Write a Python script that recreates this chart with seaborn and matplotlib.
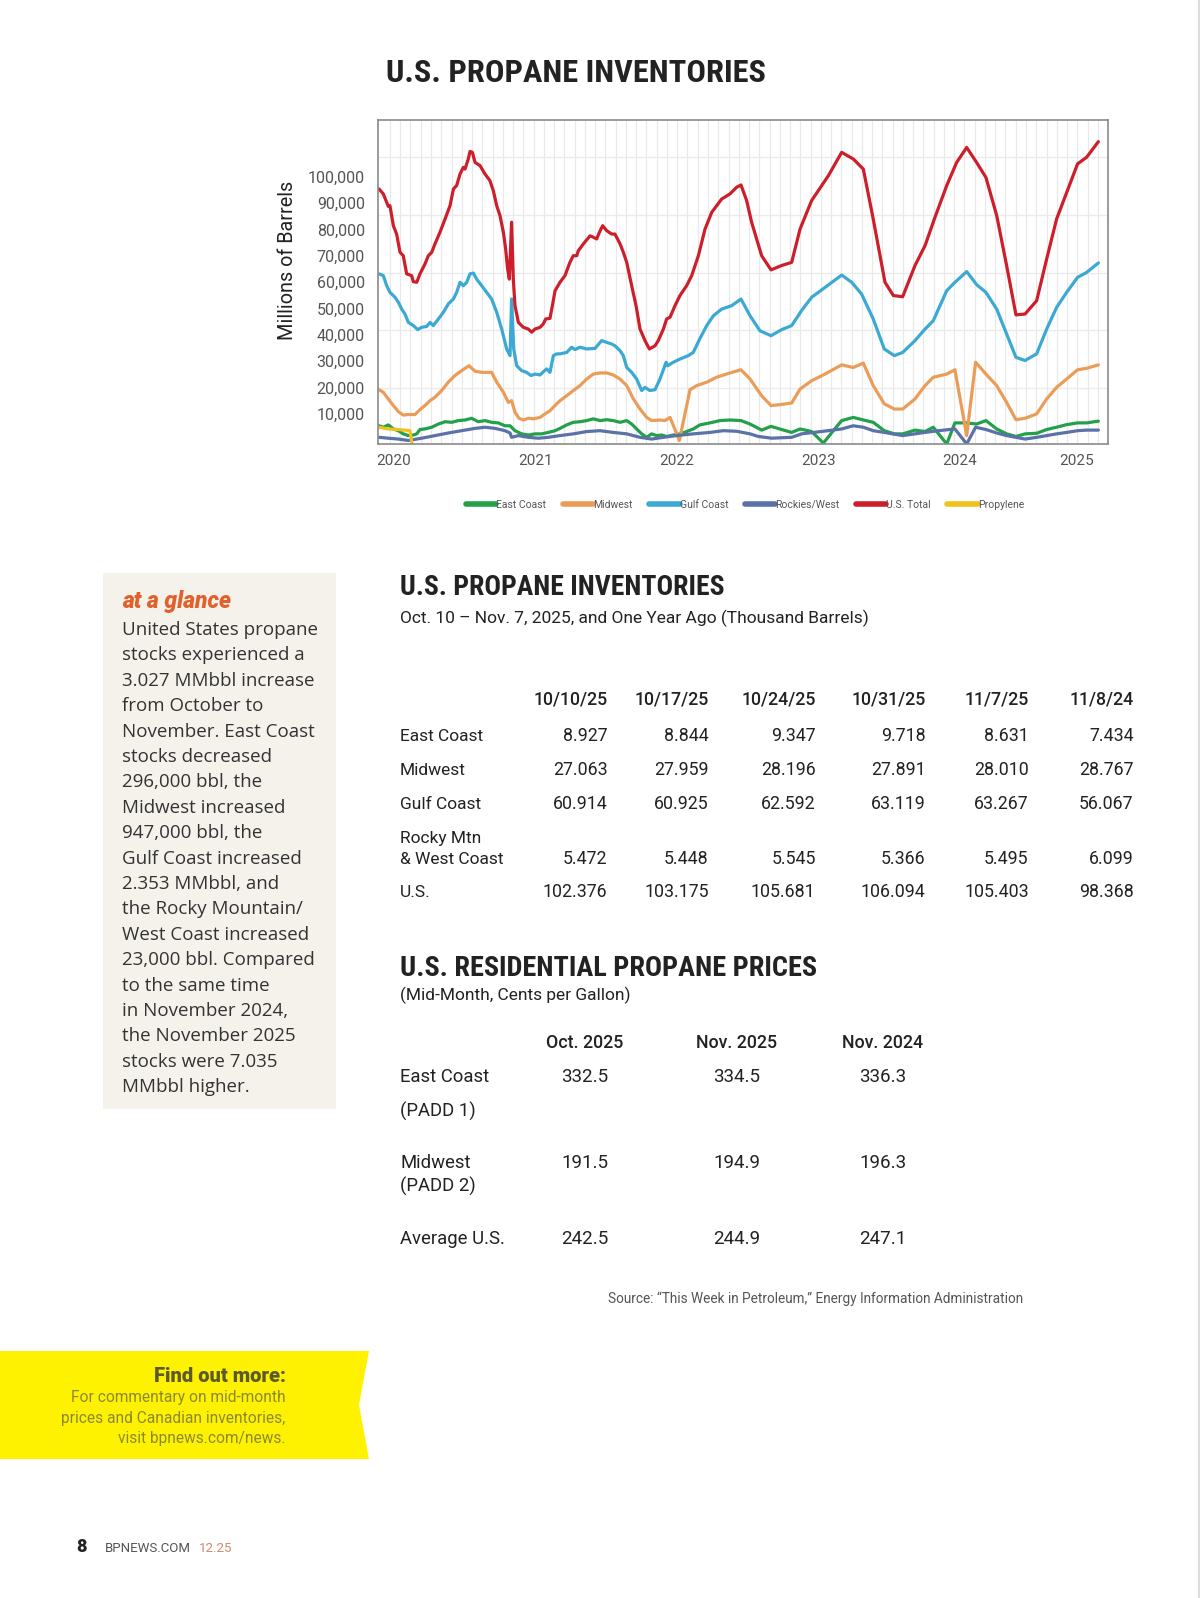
import os
import numpy as np
import pandas as pd
import matplotlib
matplotlib.use("Agg")
import matplotlib.pyplot as plt
import matplotlib.font_manager as fm
import seaborn as sns
from matplotlib.patches import Rectangle, Polygon
from matplotlib.lines import Line2D
from matplotlib.ticker import FuncFormatter

# ---------------- chart data (thousand barrels) ----------------
SERIES = ["East Coast", "Midwest", "Gulf Coast", "Rockies/West", "U.S. Total", "Propylene"]
COLORS = ["#23a04a", "#eb9d58", "#3ba9d3", "#5a72a8", "#cc1f2b", "#f2c21c"]

us_x = [2019.898, 2019.928, 2019.963, 2019.975, 2019.999, 2020.022, 2020.046, 2020.069, 2020.093, 2020.128,
        2020.140, 2020.164, 2020.187, 2020.222, 2020.246, 2020.270, 2020.293, 2020.328, 2020.364, 2020.399,
        2020.423, 2020.446, 2020.470, 2020.493, 2020.505, 2020.528, 2020.540, 2020.557, 2020.576, 2020.611,
        2020.646, 2020.681, 2020.705, 2020.729, 2020.752, 2020.776, 2020.792, 2020.806, 2020.818, 2020.834,
        2020.846, 2020.858, 2020.882, 2020.917, 2020.952, 2020.976, 2020.999, 2021.035, 2021.058, 2021.075,
        2021.105, 2021.122, 2021.141,
        2021.176, 2021.211, 2021.246, 2021.270, 2021.294, 2021.305, 2021.341, 2021.388, 2021.411, 2021.435,
        2021.454, 2021.477, 2021.505, 2021.541, 2021.564, 2021.600, 2021.623, 2021.647, 2021.682, 2021.713,
        2021.741, 2021.776, 2021.807, 2021.847, 2021.870, 2021.906, 2021.929, 2021.953, 2021.988, 2022.023,
        2022.070, 2022.106, 2022.153, 2022.200, 2022.247, 2022.282, 2022.317, 2022.376, 2022.423, 2022.454,
        2022.494, 2022.529, 2022.600, 2022.666, 2022.741, 2022.812, 2022.871, 2022.953, 2023.071, 2023.165,
        2023.247, 2023.318, 2023.388, 2023.471, 2023.530, 2023.596, 2023.683,
        2023.754, 2023.824, 2023.907, 2023.977, 2024.048, 2024.118, 2024.184, 2024.260, 2024.330, 2024.396,
        2024.460, 2024.542, 2024.613, 2024.683, 2024.754, 2024.831, 2024.895, 2024.978]
us_v = [89000, 87300, 83000, 83200, 76300, 73400, 67100, 65900, 59600, 59000,
        56900, 56700, 59600, 63000, 65900, 67100, 70000, 74000, 78600, 83200,
        89000, 90200, 94200, 96500, 95900, 99400, 102000, 101700, 98200, 97100,
        94200, 91900, 88400, 83200, 79800, 74000, 68200, 61300, 57800, 77500,
        57800, 48600, 42800, 41100, 40500, 39400, 40500, 41100, 42300, 44000,
        44200, 48600, 53800,
        56700, 59000, 63600, 65900, 65900, 67600, 70000, 72800, 72300, 71700,
        74000, 76300, 74600, 73400, 73400, 70000, 67100, 63600, 55500, 48600,
        40500, 36500, 33600, 34700, 36500, 40500, 44000, 44600, 48600, 52100,
        55500, 59000, 65900, 75100, 80900, 83200, 85500, 87300, 89600, 90400,
        85000, 77500, 65900, 61000, 62500, 63600, 75100, 85000, 93600, 101700,
        99400, 95900, 78600, 56700, 52100, 51700, 62500,
        69400, 79200, 90200, 98200, 103400, 98200, 93000, 79800, 62500, 45400,
        45700, 50300, 64800, 78600, 87800, 97700, 100000, 105400]

gulf_x = [2019.898, 2019.928, 2019.952, 2019.975, 2020.011, 2020.034, 2020.058, 2020.081, 2020.105, 2020.140,
          2020.171, 2020.199, 2020.234, 2020.258, 2020.281, 2020.317, 2020.352, 2020.387, 2020.423, 2020.446,
          2020.470, 2020.493, 2020.517, 2020.540, 2020.564, 2020.587, 2020.623, 2020.658, 2020.693, 2020.729,
          2020.764, 2020.799, 2020.823, 2020.834, 2020.849, 2020.870, 2020.905, 2020.940, 2020.971, 2020.999,
          2021.035, 2021.058, 2021.082, 2021.105, 2021.129, 2021.152,
          2021.176, 2021.223, 2021.258, 2021.282, 2021.317, 2021.364, 2021.423, 2021.470, 2021.505, 2021.541,
          2021.564, 2021.600, 2021.623, 2021.647, 2021.682, 2021.717, 2021.753, 2021.776, 2021.811, 2021.847,
          2021.882, 2021.925, 2021.936, 2021.976, 2022.023, 2022.082, 2022.117, 2022.163, 2022.212, 2022.259,
          2022.317, 2022.388, 2022.454,
          2022.518, 2022.588, 2022.666, 2022.741, 2022.812, 2022.882, 2022.953, 2023.047, 2023.165, 2023.236,
          2023.306, 2023.388, 2023.466, 2023.537, 2023.596, 2023.683,
          2023.754, 2023.812, 2023.907, 2023.965, 2024.048, 2024.118, 2024.184, 2024.260, 2024.330, 2024.396,
          2024.460, 2024.542, 2024.613, 2024.683, 2024.754, 2024.831, 2024.895, 2024.978]
gulf_v = [59600, 59000, 55500, 53200, 51500, 49800, 47400, 45700, 42800, 41700,
          40300, 41100, 41400, 42800, 41700, 44000, 46300, 49200, 50900, 53200,
          56700, 55500, 56700, 59600, 59900, 57800, 55500, 53200, 50900, 46300,
          40500, 33600, 31300, 50900, 33600, 27800, 26100, 25500, 24400, 24900,
          24600, 25700, 26700, 25500, 31300, 31900,
          31900, 32400, 34200, 33400, 34200, 33600, 33800, 36500, 35900, 35300,
          34700, 33000, 31300, 27200, 25500, 23200, 19200, 20300, 19200, 19500,
          23200, 29000, 27800, 29000, 30100, 31300, 32400, 37100, 41700, 45100,
          47400, 48600, 50900,
          45100, 39900, 38200, 40300, 41700, 46900, 51500, 54900, 59200, 56700,
          52600, 44000, 33600, 31300, 32400, 36500,
          40500, 43400, 53800, 56700, 60400, 55900, 53200, 47400, 38800, 30700,
          29600, 31900, 40500, 48000, 53200, 58400, 60100, 63400]

mid_x = [2019.898, 2019.928, 2019.963, 2019.999, 2020.034, 2020.069, 2020.105, 2020.152, 2020.187, 2020.222,
         2020.258, 2020.293, 2020.340, 2020.387, 2020.434, 2020.481, 2020.533, 2020.576, 2020.623, 2020.693,
         2020.729, 2020.776, 2020.811, 2020.834, 2020.858, 2020.886, 2020.917, 2020.952, 2020.987, 2021.035,
         2021.070, 2021.105, 2021.152,
         2021.176, 2021.223, 2021.270, 2021.317, 2021.364, 2021.411, 2021.458, 2021.505, 2021.552, 2021.600,
         2021.647, 2021.694, 2021.741, 2021.788, 2021.823, 2021.882, 2021.917, 2021.953, 2022.019, 2022.094,
         2022.141, 2022.212, 2022.282, 2022.376, 2022.454,
         2022.518, 2022.600, 2022.666, 2022.741, 2022.812, 2022.871, 2022.953, 2023.047, 2023.165, 2023.247,
         2023.318, 2023.388, 2023.466, 2023.537, 2023.596, 2023.683,
         2023.754, 2023.812, 2023.907, 2023.965, 2024.048, 2024.111, 2024.184, 2024.260, 2024.330, 2024.396,
         2024.460, 2024.542, 2024.613, 2024.683, 2024.754, 2024.831, 2024.895, 2024.978]
mid_v = [19500, 18600, 16300, 14000, 11900, 10700, 10900, 10900, 12600, 14000,
         15700, 16900, 19200, 22100, 24400, 26100, 27800, 25900, 25500, 25500,
         22100, 18600, 15100, 15700, 11700, 9600, 9000, 9600, 9400, 9900,
         11100, 12200, 14600,
         15700, 17400, 19200, 20900, 23200, 24900, 25300, 25300, 24600, 23200,
         20900, 16300, 12800, 9900, 8800, 9000, 8800, 9900, 1900, 19500,
         20900, 22100, 23800, 25300, 26400,
         23200, 17400, 14000, 14400, 14900, 19700, 22600, 24900, 28100, 27200,
         28700, 20900, 14600, 12800, 12800, 16300,
         20900, 23800, 24900, 26400, 3600, 29000, 24900, 20900, 15100, 9100,
         9600, 11100, 16300, 20300, 23200, 26400, 26900, 28100]

east_x = [2019.898, 2019.928, 2019.963, 2019.999, 2020.034, 2020.069, 2020.105, 2020.140, 2020.164, 2020.187,
          2020.222, 2020.270, 2020.317, 2020.364, 2020.411, 2020.458, 2020.505, 2020.552, 2020.599, 2020.646,
          2020.693, 2020.740, 2020.787, 2020.823, 2020.858, 2020.905, 2020.952, 2020.999, 2021.046, 2021.093,
          2021.141,
          2021.176, 2021.223, 2021.270, 2021.317, 2021.364, 2021.411, 2021.458, 2021.505, 2021.552, 2021.600,
          2021.647, 2021.682, 2021.717, 2021.753, 2021.788, 2021.823, 2021.858, 2021.894, 2021.929, 2021.976,
          2022.023, 2022.070, 2022.117, 2022.164, 2022.235, 2022.306, 2022.376, 2022.454,
          2022.518, 2022.600, 2022.666, 2022.741, 2022.812, 2022.871, 2022.953, 2023.036, 2023.106, 2023.165,
          2023.247, 2023.318, 2023.388, 2023.466, 2023.537, 2023.596, 2023.683,
          2023.754, 2023.812, 2023.907, 2023.965, 2024.048, 2024.118, 2024.184, 2024.260, 2024.330, 2024.396,
          2024.460, 2024.542, 2024.613, 2024.683, 2024.754, 2024.831, 2024.895, 2024.978]
east_v = [7000, 6500, 7300, 5900, 5300, 4200, 3600, 3800, 4200, 5700,
          5900, 6500, 7600, 8400, 8200, 8800, 9000, 9600, 8400, 8800,
          8200, 8000, 7000, 7000, 5300, 4200, 3800, 4200, 4200, 4700,
          5300,
          6100, 7300, 8200, 8400, 8800, 9400, 8800, 9100, 8800, 8200,
          8800, 7600, 5900, 4200, 3000, 4200, 3600, 3800, 3300, 3800,
          4200, 5000, 5900, 7300, 8000, 8800, 9000, 8800,
          7600, 5500, 6800, 5700, 4700, 5900, 5000, 1000, 5300, 8800,
          9900, 9000, 8200, 5300, 4200, 4200, 5500,
          5000, 6500, 700, 8000, 8000, 7600, 8800, 5900, 4200, 3300,
          4200, 4400, 5700, 6500, 7400, 8000, 8000, 8600]

rock_x = [2019.898, 2019.963, 2020.034, 2020.105, 2020.140, 2020.199, 2020.293, 2020.387, 2020.481, 2020.576,
          2020.646, 2020.717, 2020.787, 2020.823, 2020.834, 2020.882, 2020.952, 2021.023, 2021.093,
          2021.176, 2021.270, 2021.364, 2021.458, 2021.552, 2021.647, 2021.741, 2021.823, 2021.906, 2021.999,
          2022.117, 2022.235, 2022.329, 2022.423,
          2022.518, 2022.576, 2022.671, 2022.812, 2022.882, 2023.036, 2023.165, 2023.247, 2023.318, 2023.388,
          2023.466, 2023.596,
          2023.754, 2023.848, 2023.965, 2024.048, 2024.111, 2024.184, 2024.260, 2024.330, 2024.396, 2024.460,
          2024.542, 2024.613, 2024.683, 2024.754, 2024.831, 2024.895, 2024.978]
rock_v = [3000, 2700, 2400, 1900, 2200, 2700, 3600, 4500, 5300, 6100,
          6500, 6100, 5300, 4500, 3000, 3600, 3000, 2700, 3000,
          3600, 4200, 5000, 5300, 4700, 4200, 3000, 2400, 3000, 3600,
          4200, 4700, 5300, 5100,
          4200, 3300, 2700, 3000, 4200, 5100, 5900, 7000, 6500, 5300,
          4700, 3600,
          4700, 5300, 5900, 700, 6500, 5700, 4500, 3600, 3000, 2400,
          3000, 3600, 4200, 4700, 5300, 5500, 5500]

prop_x = [2019.898, 2019.963, 2020.034, 2020.116, 2020.133]
prop_v = [6500, 5900, 5700, 5300, 0]

X_TICKS = [2020, 2021, 2022, 2023, 2024, 2024.824]
X_LABELS = ["2020", "2021", "2022", "2023", "2024", "2025"]
Y_LABEL_TICKS = [10000, 20000, 30000, 40000, 50000, 60000, 70000, 80000, 90000, 100000]

# ---------------- table data ----------------
inv_dates = ["10/10/25", "10/17/25", "10/24/25", "10/31/25", "11/7/25", "11/8/24"]
inv_rows = ["East Coast", "Midwest", "Gulf Coast", "Rocky Mtn\n& West Coast", "U.S."]
inv_east = ["8.927", "8.844", "9.347", "9.718", "8.631", "7.434"]
inv_midwest = ["27.063", "27.959", "28.196", "27.891", "28.010", "28.767"]
inv_gulf = ["60.914", "60.925", "62.592", "63.119", "63.267", "56.067"]
inv_rocky = ["5.472", "5.448", "5.545", "5.366", "5.495", "6.099"]
inv_us = ["102.376", "103.175", "105.681", "106.094", "105.403", "98.368"]

price_cols = ["Oct. 2025", "Nov. 2025", "Nov. 2024"]
price_east = ["332.5", "334.5", "336.3"]
price_midwest = ["191.5", "194.9", "196.3"]
price_avg = ["242.5", "244.9", "247.1"]

glance_lines = ["United States propane", "stocks experienced a", "3.027 MMbbl increase",
                "from October to", "November. East Coast", "stocks decreased",
                "296,000 bbl, the", "Midwest increased", "947,000 bbl, the",
                "Gulf Coast increased", "2.353 MMbbl, and", "the Rocky Mountain/",
                "West Coast increased", "23,000 bbl. Compared", "to the same time",
                "in November 2024,", "the November 2025", "stocks were 7.035",
                "MMbbl higher."]

# ---------------- fonts ----------------
sns.set_style("white")
plt.rcParams["font.family"] = ["Roboto", "DejaVu Sans"]


def pick_condensed_bold():
    prefs = ["LiberationSansNarrow-Bold.ttf", "RobotoCondensed-Bold.ttf", "DejaVuSansCondensed-Bold.ttf",
             "OpenSans-CondensedBold.ttf", "NotoSans-CondensedBold.ttf"]
    files = {os.path.basename(f.fname): f.fname for f in fm.fontManager.ttflist}
    for p in prefs:
        if p in files:
            return fm.FontProperties(fname=files[p])
    for name, path in files.items():
        low = name.lower()
        if ("condensed" in low or "narrow" in low) and "bold" in low and "italic" not in low \
                and "semi" not in low and "extra" not in low:
            return fm.FontProperties(fname=path)
    return fm.FontProperties(family="Roboto", weight="bold")


COND_FP = pick_condensed_bold()

W, H = 1200, 1598
fig = plt.figure(figsize=(12, 15.98), dpi=100)
fig.patch.set_facecolor("white")
renderer = fig.canvas.get_renderer()


def fx(px):
    return px / W


def fy(py):
    return 1 - py / H


def fit_width(t, target_px):
    bb = t.get_window_extent(renderer)
    t.set_fontsize(t.get_fontsize() * target_px / bb.width)


frames = []
for name, xs, vs in [("East Coast", east_x, east_v), ("Midwest", mid_x, mid_v),
                     ("Gulf Coast", gulf_x, gulf_v), ("Rockies/West", rock_x, rock_v),
                     ("U.S. Total", us_x, us_v), ("Propylene", prop_x, prop_v)]:
    frames.append(pd.DataFrame({"x": xs, "v": vs, "series": name}))
df = pd.concat(frames, ignore_index=True)

ax = fig.add_axes([fx(378), fy(444), (1108 - 378) / W, (444 - 120) / H])
sns.lineplot(data=df, x="x", y="v", hue="series", hue_order=SERIES, palette=COLORS,
             estimator=None, sort=False, lw=2.3, ax=ax, legend=False)
ax.set_xlim(2019.8905, 2025.046)
ax.set_ylim(690, 112900)
ax.set_xlabel("")
ax.set_ylabel("")
ax.set_axisbelow(True)
ax.set_yticks([20000, 40000, 60000, 80000, 100000])
ax.set_yticklabels([])
ax.tick_params(axis="y", length=0)
ax.set_xticks(X_TICKS)
ax.set_xticklabels(X_LABELS)
ax.set_xticks(np.arange(2019.975, 2025.046, 0.07245), minor=True)
ax.tick_params(axis="x", which="both", length=0, pad=7, labelsize=11, labelcolor="#555555")
ax.grid(True, axis="y", which="major", color="#ebebeb", lw=1.0)
ax.grid(True, axis="x", which="minor", color="#e9e9e9", lw=0.9)
ax.grid(False, axis="x", which="major")
for s in ax.spines.values():
    s.set_color("#8a8a8a")
    s.set_linewidth(1.2)

# axis labels as printed on the chart (separate label scale)
ax2 = ax.twinx()
ax2.set_ylim(-1365, 121500)
ax2.yaxis.tick_left()
ax2.yaxis.set_label_position("left")
ax2.set_yticks(Y_LABEL_TICKS)
ax2.yaxis.set_major_formatter(FuncFormatter(lambda v, p: f"{int(v):,}"))
ax2.tick_params(axis="y", length=0, pad=9.5, labelsize=11.5, labelcolor="#555555")
for s in ax2.spines.values():
    s.set_visible(False)
ax2.set_ylabel("Millions of Barrels", fontsize=14.3, color="#222222")
ax2.yaxis.set_label_coords(-0.111, 0.568)

handles = [Line2D([0], [0], color=c, lw=4) for c in COLORS]
leg = fig.legend(handles, SERIES, loc="center", bbox_to_anchor=(fx(745), fy(505)),
                 ncol=6, frameon=False, fontsize=7.5, handlelength=2.9, handletextpad=0.0,
                 columnspacing=1.6, labelcolor="#555555")

# main title
t = fig.text(fx(385.5), fy(82), "U.S. PROPANE INVENTORIES", fontproperties=COND_FP,
             color="#222222", va="baseline", ha="left")
t.set_fontsize(23)
fit_width(t, 381)

# ---------------- sidebar ----------------
fig.patches.append(Rectangle((fx(103), fy(1109)), (336 - 103) / W, (1109 - 573) / H,
                             transform=fig.transFigure, facecolor="#f5f2ec", edgecolor="none", zorder=0))
t = fig.text(fx(122), fy(608), "at a glance", fontsize=14.5, fontweight="heavy", style="italic",
             color="#e2612b", va="baseline", ha="left")
fit_width(t, 109)
for i, line in enumerate(glance_lines):
    fig.text(fx(122), fy(635 + i * 25.4), line, fontsize=13.5, color="#333333",
             family=["Open Sans", "Roboto", "DejaVu Sans"], va="baseline", ha="left")

# ---------------- inventory table ----------------
t = fig.text(fx(399.6), fy(595), "U.S. PROPANE INVENTORIES", fontproperties=COND_FP,
             color="#222222", va="baseline", ha="left")
t.set_fontsize(19)
fit_width(t, 324)
fig.text(fx(400), fy(623), "Oct. 10 \u2013 Nov. 7, 2025, and One Year Ago (Thousand Barrels)",
         fontsize=12.5, color="#222222", va="baseline", ha="left")
col_right = [607.6, 708.6, 815.6, 925.7, 1028.7, 1133.7]
for xr, d in zip(col_right, inv_dates):
    fig.text(fx(xr), fy(705), d, fontsize=12.8, fontweight="medium", color="#222222",
             va="baseline", ha="right")
row_base = [741, 775, 809, 864, 897.5]
label_base = [741, 775, 809, 842.5, 897.5]
for rb, lb, lab, vals in zip(row_base, label_base, inv_rows,
                             [inv_east, inv_midwest, inv_gulf, inv_rocky, inv_us]):
    parts = lab.split("\n")
    for j, p in enumerate(parts):
        fig.text(fx(400), fy(lb + j * 21.5), p, fontsize=12.5, color="#222222",
                 va="baseline", ha="left")
    for xr, v in zip(col_right, vals):
        fig.text(fx(xr), fy(rb), v, fontsize=12.8, color="#222222", va="baseline", ha="right")

# ---------------- price table ----------------
t = fig.text(fx(399.6), fy(976), "U.S. RESIDENTIAL PROPANE PRICES", fontproperties=COND_FP,
             color="#222222", va="baseline", ha="left")
t.set_fontsize(19)
fit_width(t, 418)
fig.text(fx(400), fy(1000), "(Mid-Month, Cents per Gallon)", fontsize=12.5, color="#222222",
         va="baseline", ha="left")
col_center = [585, 737, 883]
for xc, c in zip(col_center, price_cols):
    fig.text(fx(xc), fy(1047.5), c, fontsize=12.8, fontweight="medium", color="#222222",
             va="baseline", ha="center")
price_rows = [("East Coast", "(PADD 1)", 1082, 1116.5, price_east),
              ("Midwest", "(PADD 2)", 1167.5, 1192, price_midwest),
              ("Average U.S.", None, 1244, None, price_avg)]
for lab, sub, b1, b2, vals in price_rows:
    fig.text(fx(400), fy(b1), lab, fontsize=13.3, color="#222222", va="baseline", ha="left")
    if sub:
        fig.text(fx(400), fy(b2), sub, fontsize=13.3, color="#222222", va="baseline", ha="left")
    for xc, v in zip(col_center, vals):
        fig.text(fx(xc), fy(b1), v, fontsize=13.5, color="#222222", va="baseline", ha="center")

fig.text(fx(816), fy(1303), "Source: \u201cThis Week in Petroleum,\u201d Energy Information Administration",
         fontsize=9.8, color="#555555", va="baseline", ha="center")

# ---------------- yellow banner ----------------
banner = Polygon([(fx(0), fy(1351)), (fx(369), fy(1351)), (fx(359), fy(1405)),
                  (fx(369), fy(1459)), (fx(0), fy(1459))], closed=True,
                 transform=fig.transFigure, facecolor="#fff200", edgecolor="none", zorder=0)
fig.patches.append(banner)
t = fig.text(fx(285.5), fy(1382), "Find out more:", fontsize=13.5, fontweight="heavy", color="#5b5a2c",
             va="baseline", ha="right")
fit_width(t, 132)
for i, line in enumerate(["For commentary on mid-month", "prices and Canadian inventories,",
                          "visit bpnews.com/news."]):
    fig.text(fx(285.5), fy(1402 + i * 20.5), line, fontsize=11.2, color="#8a8838",
             va="baseline", ha="right")

# ---------------- footer ----------------
fig.text(fx(76.5), fy(1552), "8", fontsize=13, fontweight="heavy", color="#222222",
         va="baseline", ha="left")
t = fig.text(fx(105), fy(1552), "BPNEWS.COM", fontsize=9.8, color="#555555",
             va="baseline", ha="left")
fit_width(t, 86)
fig.text(fx(198.5), fy(1552), "12.25", fontsize=9.6, color="#d58a6a", va="baseline", ha="left")

fig.add_artist(Line2D([fx(1199), fx(1199)], [0, 1], transform=fig.transFigure,
                      color="#dddddd", lw=1.5))

fig.savefig("out.png", dpi=100, facecolor="white")
